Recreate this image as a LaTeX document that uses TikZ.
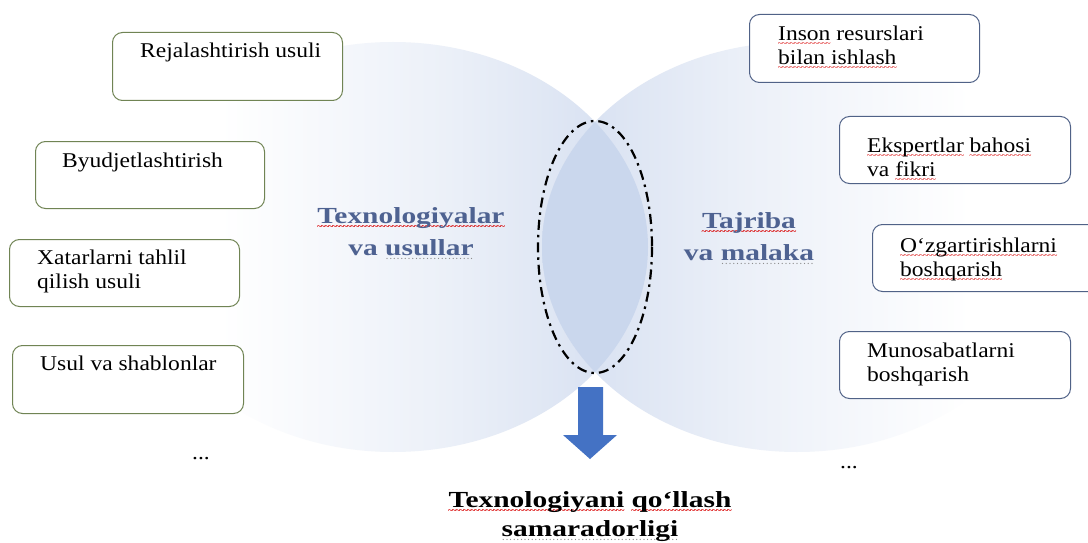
\documentclass[tikz,border=0pt]{standalone}
\usepackage{fontspec}
\newfontfamily\boxfont{Liberation Serif}[FakeStretch=1.12]
\newfontfamily\labfont{Liberation Serif}[FakeStretch=1.28]
\newfontfamily\plainserif{Liberation Serif}
\newcommand\redwave[1]{\leavevmode\setbox0\hbox{#1}\rlap{\color{red!85!black}\raisebox{-6pt}[0pt][0pt]{\hbox to\wd0{\xleaders\hbox{\plainserif\fontsize{9}{9}\selectfont\kern-0.5pt\char"7E\kern-0.5pt}\hfill}}}\box0\relax}
\newcommand\grdots[1]{\leavevmode\setbox0\hbox{#1}\rlap{\color{black!45}\raisebox{-4.5pt}[0pt][0pt]{\hbox to\wd0{\xleaders\hbox{\plainserif\fontsize{8}{8}\selectfont\kern0.8pt.\kern0.8pt}\hfill}}}\box0\relax}
\definecolor{ellblue}{RGB}{212,222,240}
\definecolor{lensblue}{RGB}{202,215,237}
\definecolor{labcol}{RGB}{78,98,145}
\definecolor{lbord}{RGB}{112,132,84}
\definecolor{rbord}{RGB}{80,98,135}
\definecolor{arrowblue}{RGB}{68,114,196}
\pgfdeclarehorizontalshading{leftfade}{100bp}{color(0bp)=(white); color(25bp)=(white); color(33bp)=(white); color(55bp)=(ellblue!45!white); color(75bp)=(ellblue); color(100bp)=(ellblue)}
\pgfdeclarehorizontalshading{rightfade}{100bp}{color(0bp)=(ellblue); color(25bp)=(ellblue); color(45bp)=(ellblue!45!white); color(67bp)=(white); color(75bp)=(white); color(100bp)=(white)}
\tikzset{
  boxbase/.style={line width=1pt, fill=white, rounded corners=10pt, anchor=north west, inner sep=0pt},
  lbox/.style={boxbase, draw=lbord},
  rbox/.style={boxbase, draw=rbord},
  boxtext/.style={font=\boxfont\fontsize{21}{24}\selectfont, align=left, inner sep=0pt, anchor=base west},
  labtext/.style={font=\labfont\bfseries\fontsize{23}{32}\selectfont, text=labcol, align=center, inner sep=0pt, anchor=base},
  titletext/.style={font=\labfont\bfseries\fontsize{23}{29}\selectfont, align=center, inner sep=0pt, anchor=base},
  lensline/.style={line width=2.2pt, dash pattern=on 10pt off 5pt on 2.5pt off 5pt},
}
\begin{document}
\begin{tikzpicture}[x=1pt,y=-1pt]
\useasboundingbox (0,0) rectangle (1088,543);
\fill[white] (0,0) rectangle (1088,543);
% two overlapping ellipses
\shade[shading=leftfade] (393,247) ellipse [x radius=255, y radius=205];
\shade[shading=rightfade] (797,247) ellipse [x radius=255, y radius=205];
\begin{scope}
  \clip (393,247) ellipse [x radius=255, y radius=205];
  \fill[lensblue] (797,247) ellipse [x radius=255, y radius=205];
\end{scope}
\draw[lensline] (595,247) ellipse [x radius=57, y radius=126];
% arrow
\fill[arrowblue] (578,387) -- (603,387) -- (603,435) -- (617,435) -- (590,459) -- (563,435) -- (578,435) -- cycle;
% left boxes
\node[lbox, minimum width=230pt, minimum height=68pt] (l1) at (112,32) {};
\node[lbox, minimum width=229pt, minimum height=67pt] (l2) at (35,141) {};
\node[lbox, minimum width=230pt, minimum height=67pt] (l3) at (9,239) {};
\node[lbox, minimum width=231pt, minimum height=68pt] (l4) at (12,345) {};
\node[boxtext] (t1) at (140,58) {Rejalashtirish usuli};
\node[boxtext] (t2) at (62,167) {Byudjetlashtirish};
\node[boxtext] (t3) at (37,288) {Xatarlarni tahlil\\qilish usuli};
\node[boxtext] (t4) at (40,370) {Usul va shablonlar};
\node[boxtext] (d1) at (192,459) {...};
% right boxes
\node[rbox, minimum width=230pt, minimum height=68pt] (r1) at (749,14) {};
\node[rbox, minimum width=231pt, minimum height=67pt] (r2) at (839,116) {};
\node[rbox, minimum width=232pt, minimum height=67pt] (r3) at (872,224) {};
\node[rbox, minimum width=231pt, minimum height=67pt] (r4) at (839,331) {};
\node[boxtext] (t5) at (778,65) {\redwave{Inson} resurslari\\\redwave{bilan ishlash}};
\node[boxtext] (t6) at (867,176) {\redwave{Ekspertlar} \redwave{bahosi}\\va \redwave{fikri}};
\node[boxtext] (t7) at (900,276) {\redwave{O‘zgartirishlarni}\\\redwave{boshqarish}};
\node[boxtext] (t8) at (867,381) {Munosabatlarni\\boshqarish};
\node[boxtext] (d2) at (840,468) {...};
% central labels
\node[labtext] (lab1) at (411,255) {\redwave{Texnologiyalar}\\va \grdots{usullar}};
\node[labtext] (lab2) at (749,260) {\redwave{Tajriba}\\va \grdots{malaka}};
% title
\node[titletext] (title) at (590,536) {\redwave{Texnologiyani} \redwave{qo‘llash}\\\grdots{samaradorligi}};
\end{tikzpicture}
\end{document}
